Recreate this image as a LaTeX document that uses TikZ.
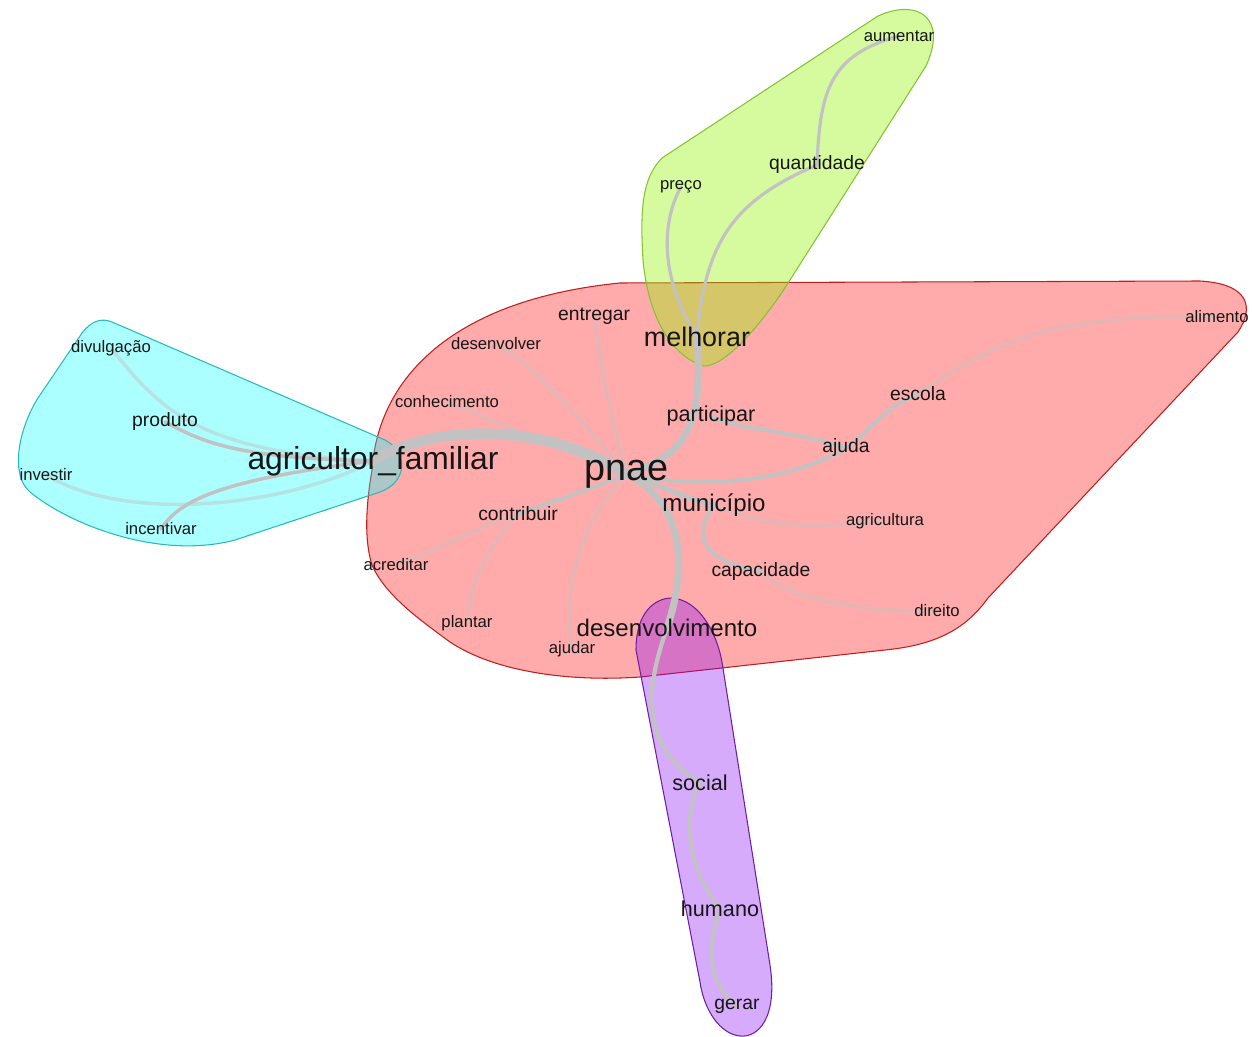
\documentclass[tikz,border=0pt]{standalone}
\usepackage{fontspec}
\setmainfont{Liberation Sans}
\pgfdeclarelayer{hull}
\pgfdeclarelayer{edges}
\pgfsetlayers{hull,edges,main}
\definecolor{pinkf}{RGB}{255,0,0}
\definecolor{pinkd}{RGB}{190,30,30}
\definecolor{cyanf}{RGB}{0,255,255}
\definecolor{cyand}{RGB}{40,185,185}
\definecolor{greenf}{RGB}{147,242,0}
\definecolor{greend}{RGB}{130,195,50}
\definecolor{purplef}{RGB}{130,0,245}
\definecolor{purpled}{RGB}{110,30,160}
\definecolor{edgec}{RGB}{194,194,194}
\definecolor{txt}{RGB}{22,22,22}
\tikzset{
  w/.style={inner sep=0pt, text=txt},
  sA/.style={w, font=\fontsize{21.5}{24}\selectfont},
  sB/.style={w, font=\fontsize{18.1}{21}\selectfont},
  sC/.style={w, font=\fontsize{15.3}{18}\selectfont},
  sD/.style={w, font=\fontsize{13.7}{16}\selectfont},
  sE/.style={w, font=\fontsize{12.3}{15}\selectfont},
  sF/.style={w, font=\fontsize{11}{13}\selectfont},
  sG/.style={w, font=\fontsize{9.5}{11}\selectfont},
  e/.style={draw=edgec, line cap=round},
  faint/.style={draw=edgec, draw opacity=0.45, line width=2pt, line cap=round},
  hullp/.style={line width=0.6pt, fill opacity=0.33}
}
\begin{document}
\begin{tikzpicture}[x=0.02cm, y=-0.02cm]
\useasboundingbox (0,0) rectangle (1252,1037);

% ---------- nodes ----------
\node[sA] (pnae) at (627,474) {pnae};
\node[sB] (agri) at (373,461) {agricultor\_familiar};
\node[sC] (melhorar) at (697,337) {melhorar};
\node[sE] (participar) at (711,416) {participar};
\node[sD] (municipio) at (714,505) {município};
\node[sD] (desenv) at (667,628) {desenvolvimento};
\node[sF] (contribuir) at (518,514) {contribuir};
\node[sF] (capacidade) at (761,572) {capacidade};
\node[sF] (entregar) at (594,316) {entregar};
\node[sG] (desenvolver) at (496,344) {desenvolver};
\node[sG] (conhecimento) at (447,402) {conhecimento};
\node[sG] (acreditar) at (396,565) {acreditar};
\node[sG] (plantar) at (467,623) {plantar};
\node[sG] (ajudar) at (572,649) {ajudar};
\node[sF] (escola) at (918,394) {escola};
\node[sF] (ajuda) at (846,448) {ajuda};
\node[sG] (agricultura) at (885,521) {agricultura};
\node[sG] (direito) at (937,611) {direito};
\node[sG] (alimento) at (1217,317) {alimento};
\node[sG] (preco) at (681,187) {preço};
\node[sF] (quantidade) at (817,165) {quantidade};
\node[sG] (aumentar) at (899,36) {aumentar};
\node[sE] (social) at (700,783) {social};
\node[sE] (humano) at (720,909) {humano};
\node[sF] (gerar) at (737,1006) {gerar};
\node[sG] (divulgacao) at (111,348) {divulgação};
\node[sF] (produto) at (165,422) {produto};
\node[sG] (investir) at (46,475) {investir};
\node[sG] (incentivar) at (161,529) {incentivar};

% ---------- hulls ----------
\begin{pgfonlayer}{hull}
% pink
\filldraw[hullp, fill=pinkf, draw=pinkd]
  (372,470) .. controls (378,380) and (450,300) .. (620,283)
  -- (1200,281) .. controls (1250,284) and (1254,308) .. (1238,332)
  -- (988,598) .. controls (965,630) and (935,645) .. (885,650)
  -- (640,677) .. controls (570,682) and (495,672) .. (450,642)
  .. controls (420,620) and (385,595) .. (372,565)
  .. controls (364,540) and (366,505) .. (372,470) -- cycle;
% green
\filldraw[hullp, fill opacity=0.38, fill=greenf, draw=greend]
  (662,158) -- (878,16) .. controls (918,-2) and (948,18) .. (926,66)
  -- (790,280) .. controls (765,320) and (725,368) .. (703,366)
  .. controls (670,355) and (648,315) .. (643,260)
  .. controls (640,210) and (642,178) .. (662,158) -- cycle;
% cyan
\filldraw[hullp, fill=cyanf, draw=cyand]
  (112,322) -- (385,440) .. controls (408,452) and (408,482) .. (380,492)
  -- (235,540) .. controls (160,560) and (70,525) .. (30,492)
  .. controls (10,475) and (18,430) .. (38,398)
  -- (82,333) .. controls (92,320) and (102,318) .. (112,322) -- cycle;
% purple
\filldraw[hullp, fill=purplef, draw=purpled]
  (636,650) .. controls (636,612) and (655,598) .. (672,598)
  .. controls (698,600) and (716,630) .. (722,662)
  -- (770,965) .. controls (778,1018) and (758,1038) .. (740,1036)
  .. controls (720,1034) and (704,1010) .. (700,982)
  -- (636,650) -- cycle;
\end{pgfonlayer}

% ---------- edges ----------
\begin{pgfonlayer}{edges}
% faint edges
\draw[faint] (pnae.center) .. controls (610,420) and (600,360) .. (entregar.center);
\draw[faint] (pnae.center) .. controls (580,420) and (540,370) .. (desenvolver.center);
\draw[faint] (pnae.center) .. controls (550,445) and (490,420) .. (conhecimento.center);
\draw[faint] (contribuir.center) .. controls (470,530) and (440,550) .. (acreditar.center);
\draw[faint] (contribuir.center) .. controls (490,545) and (470,580) .. (plantar.center);
\draw[faint] (pnae.center) .. controls (580,520) and (562,590) .. (ajudar.center);
\draw[faint] (escola.center) .. controls (990,345) and (1050,312) .. (alimento.center);
\draw[faint] (municipio.center) .. controls (760,525) and (800,530) .. (agricultura.center);
\draw[faint] (capacidade.center) .. controls (790,600) and (860,612) .. (direito.center);
\draw[faint] (agri.center) .. controls (200,452) and (160,410) .. (divulgacao.center);
\draw[faint] (agri.center) .. controls (290,505) and (130,525) .. (investir.center);
% medium edges
\draw[e, line width=2.2pt] (pnae.center) .. controls (590,490) and (555,500) .. (contribuir.center);
\draw[e, line width=2.2pt] (participar.center) .. controls (745,432) and (795,430) .. (ajuda.center);
\draw[e, line width=2.2pt] (pnae.center) .. controls (700,490) and (790,482) .. (ajuda.center);
\draw[e, line width=2.2pt] (ajuda.center) .. controls (870,432) and (880,410) .. (escola.center);
\draw[e, line width=2.2pt] (municipio.center) .. controls (690,540) and (705,560) .. (capacidade.center);
\draw[e, line width=1.8pt] (melhorar.center) .. controls (655,270) and (665,215) .. (preco.center);
\draw[e, line width=1.8pt] (melhorar.center) .. controls (705,240) and (735,200) .. (quantidade.center);
\draw[e, line width=1.8pt] (quantidade.center) .. controls (820,90) and (830,55) .. (aumentar.center);
\draw[e, line width=2pt] (agri.center) .. controls (230,458) and (200,440) .. (produto.center);
\draw[e, line width=2pt] (agri.center) .. controls (220,480) and (180,500) .. (incentivar.center);
\draw[e, line width=2.4pt] (desenv.center) .. controls (645,690) and (640,745) .. (social.center);
\draw[e, line width=2.2pt] (social.center) .. controls (680,820) and (690,870) .. (humano.center);
\draw[e, line width=2.2pt] (humano.center) .. controls (708,945) and (705,980) .. (gerar.center);
% thick edges
\draw[e, line width=6pt] (agri.center) .. controls (430,425) and (540,420) .. (pnae.center);
\draw[e, line width=4pt] (pnae.center) .. controls (690,455) and (703,420) .. (melhorar.center);
\draw[e, line width=4pt] (pnae.center) .. controls (680,500) and (690,560) .. (desenv.center);
\draw[e, line width=3pt] (pnae.center) .. controls (660,485) and (690,500) .. (municipio.center);
\end{pgfonlayer}
\end{tikzpicture}
\end{document}
